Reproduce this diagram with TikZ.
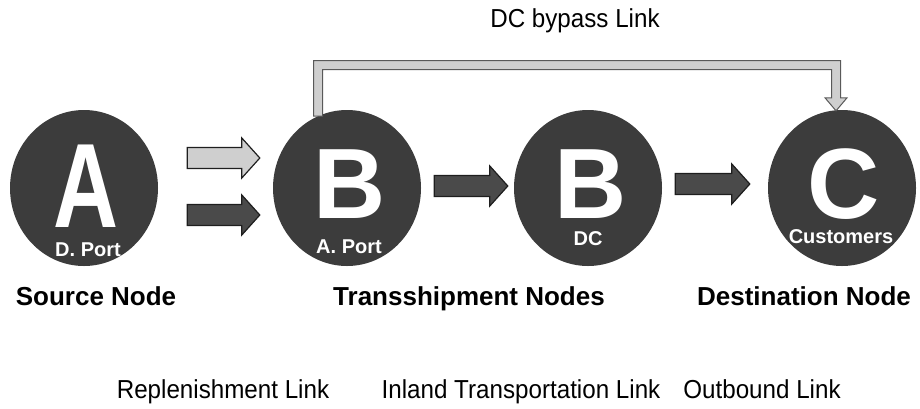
\documentclass[tikz,border=0pt]{standalone}
\usepackage{fontspec}
\setmainfont{Liberation Sans}
\newfontfamily\narrowfont[FakeStretch=0.93]{Liberation Sans}
\usetikzlibrary{calc,shapes.geometric}
\definecolor{circfill}{HTML}{3C3C3C}
\definecolor{darkarr}{HTML}{4A4A4A}
\definecolor{lightarr}{HTML}{CFCFCF}
\definecolor{arredge}{HTML}{1E1E1E}
\newcommand{\blockarr}[3]{%
  \draw[#3] ($(#1)+(0,-10.5)$) -- ($(#2)+(-18,-10.5)$) -- ($(#2)+(-18,-20)$) -- (#2)
    -- ($(#2)+(-18,20)$) -- ($(#2)+(-18,10.5)$) -- ($(#1)+(0,10.5)$) -- cycle;}
\begin{document}
\begin{tikzpicture}[x=1pt,y=-1pt,
  circ/.style={ellipse,fill=circfill,minimum width=148pt,minimum height=156pt,inner sep=0pt},
  bigletter/.style={text=white,font=\fontsize{100}{100}\selectfont\bfseries,inner sep=0pt},
  sublbl/.style={text=white,font=\fontsize{20}{20}\selectfont\bfseries,inner sep=0pt,anchor=base},
  boldlbl/.style={font=\fontsize{26}{26}\selectfont\bfseries,inner sep=0pt,anchor=base},
  linklbl/.style={font=\fontsize{26}{26}\narrowfont,inner sep=0pt,anchor=base},
  darkblk/.style={fill=darkarr,draw=arredge,line width=1.2pt,line join=miter},
  lightblk/.style={fill=lightarr,draw=arredge,line width=1.2pt,line join=miter},
  bypass/.style={fill=lightarr,draw=black!65,line width=1pt,line join=miter}]
\useasboundingbox (0,0) rectangle (920,408);

% circles
\node[circ] (A) at (84,188) {};
\node[circ] (B1) at (347,188) {};
\node[circ] (B2) at (588,188) {};
\node[circ] (C) at (842,188) {};

% letters
\node[bigletter] (Aletter) at (86,186) {\scalebox{0.9}[1.2]{A}};
\node[bigletter] (B1letter) at (350,184) {B};
\node[bigletter] (B2letter) at (591,184) {B};
\node[bigletter] (Cletter) at (844,184) {C};

% sub labels
\node[sublbl] (Asub) at (88,256) {D. Port};
\node[sublbl] (B1sub) at (349,253) {A. Port};
\node[sublbl] (B2sub) at (588,245) {DC};
\node[sublbl] (Csub) at (841,243) {Customers};

% bold labels
\node[boldlbl] (srcl) at (96,305) {Source Node};
\node[boldlbl] (trl) at (469,305) {Transshipment Nodes};
\node[boldlbl] (dstl) at (804,305) {Destination Node};

% link labels
\node[linklbl] (bypl) at (575,27) {DC bypass Link};
\node[linklbl] (repl) at (223,398) {Replenishment Link};
\node[linklbl] (inll) at (521,398) {Inland Transportation Link};
\node[linklbl] (outl) at (762,398) {Outbound Link};

% block arrows
\coordinate (l1s) at ($(A.east)+(29,-30)$);
\coordinate (l1e) at ($(B1.west)+(-13,-30)$);
\coordinate (l2s) at ($(A.east)+(29,27)$);
\coordinate (l2e) at ($(B1.west)+(-13,27)$);
\coordinate (m1s) at ($(B1.east)+(13,-2)$);
\coordinate (m1e) at ($(B2.west)+(-6,-2)$);
\coordinate (m2s) at ($(B2.east)+(13,-4)$);
\coordinate (m2e) at ($(C.west)+(-18,-4)$);
\blockarr{l1s}{l1e}{lightblk}
\blockarr{l2s}{l2e}{darkblk}
\blockarr{m1s}{m1e}{darkblk}
\blockarr{m2s}{m2e}{darkblk}

% DC bypass link
\coordinate (bs) at ($(B1.center)+(-29,-72)$);
\coordinate (bt) at ($(C.north)+(-6,1)$);
\coordinate (topo) at (0,60.5);
\coordinate (topi) at (0,69.5);
\coordinate (bso) at ($(bs)+(-4.5,0)$);
\coordinate (bsi) at ($(bs)+(4.5,0)$);
\coordinate (bto) at ($(bt)+(4.5,0)$);
\coordinate (bti) at ($(bt)+(-4.5,0)$);
\draw[bypass] (bso) -- (bso |- topo) -- (bto |- topo)
  -- ($(bt)+(4.5,-13)$) -- ($(bt)+(11,-13)$) -- (bt) -- ($(bt)+(-11,-13)$) -- ($(bt)+(-4.5,-13)$)
  -- (bti |- topi) -- (bsi |- topi) -- (bsi) -- cycle;
\end{tikzpicture}
\end{document}
